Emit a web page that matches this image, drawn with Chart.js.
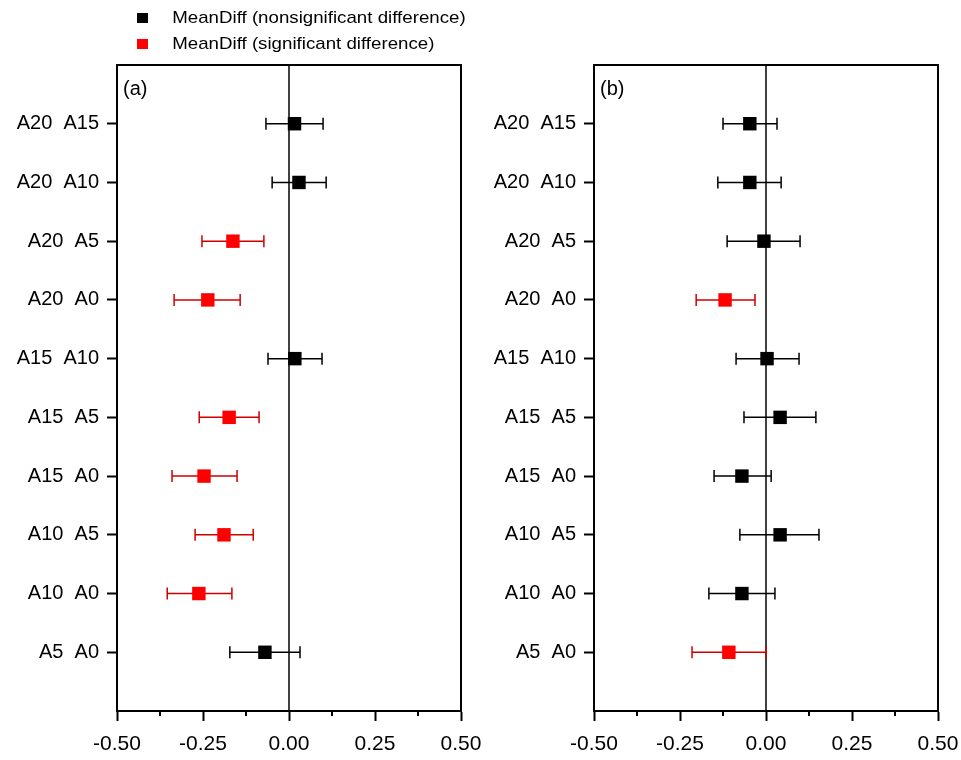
<!DOCTYPE html>
<html>
<head>
<meta charset="utf-8">
<script src="https://cdn.jsdelivr.net/npm/chart.js@4.4.1/dist/chart.umd.min.js"></script>
<style>
  body { margin: 0; background: #fff; }
  #wrap { position: relative; width: 961px; height: 760px; overflow: hidden; }
  canvas { position: absolute; top: 0; }
  #legend { position: absolute; left: 137px; top: 5px; font: 17px "Liberation Sans", Arial, sans-serif; color: #000;
            transform: scaleX(1.1); transform-origin: left top; }
  .row { height: 26px; display: flex; align-items: center; }
  .sw { width: 10px; height: 10px; margin-right: 22px; }
</style>
</head>
<body>
<div id="wrap">
  <canvas id="chartB" width="490" height="760" style="left:480px"></canvas>
  <canvas id="chartA" width="500" height="760" style="left:0"></canvas>
  <div id="legend">
    <div class="row"><span class="sw" style="background:#000"></span>MeanDiff (nonsignificant difference)</div>
    <div class="row"><span class="sw" style="background:#ff0000"></span>MeanDiff (significant difference)</div>
  </div>
</div>
<script>
// comparisons, top to bottom
const pairs = ["A20  A15", "A20  A10", "A20  A5", "A20  A0", "A15  A10",
               "A15  A5", "A15  A0", "A10  A5", "A10  A0", "A5  A0"];

// panel (a)
const meanA = [0.016, 0.029, -0.163, -0.236, 0.017, -0.174, -0.247, -0.189, -0.262, -0.070];
const lowA  = [-0.067, -0.049, -0.253, -0.334, -0.061, -0.261, -0.340, -0.273, -0.354, -0.172];
const highA = [0.099, 0.108, -0.073, -0.142, 0.096, -0.087, -0.151, -0.104, -0.166, 0.032];
const sigA  = [false, false, true, true, false, true, true, true, true, false];

// panel (b)
const meanB = [-0.047, -0.047, -0.006, -0.119, 0.003, 0.041, -0.070, 0.041, -0.070, -0.108];
const lowB  = [-0.125, -0.140, -0.113, -0.203, -0.087, -0.064, -0.151, -0.076, -0.166, -0.215];
const highB = [0.032, 0.044, 0.099, -0.032, 0.096, 0.145, 0.015, 0.154, 0.026, 0.000];
const sigB  = [false, false, false, true, false, false, false, false, false, true];

const xTicks = [-0.5, -0.25, 0, 0.25, 0.5];
const xMinor = [-0.375, -0.125, 0.125, 0.375];

const FONT = "'Liberation Sans', Arial, sans-serif";

function points(mean, low, high, sig, wantSig) {
    const out = [];
    mean.forEach((m, i) => {
        if (sig[i] === wantSig) {
            out.push({ x: m, y: pairs.length - i, lo: low[i], hi: high[i] });
        }
    });
    return out;
}

const panelPlugin = {
    id: "panel",
    beforeDatasetsDraw(chart) {
        const { ctx, chartArea: a, scales: { x, y } } = chart;
        ctx.save();
        const x0 = x.getPixelForValue(0);
        ctx.strokeStyle = "#000";
        ctx.lineWidth = 1.5;
        ctx.beginPath();
        ctx.moveTo(x0, a.top);
        ctx.lineTo(x0, a.bottom);
        ctx.stroke();

        chart.data.datasets.forEach(ds => {
            ctx.strokeStyle = ds.barColor;
            ctx.lineWidth = 1.5;
            ds.data.forEach(p => {
                const py = y.getPixelForValue(p.y);
                const l = x.getPixelForValue(p.lo);
                const r = x.getPixelForValue(p.hi);
                ctx.beginPath();
                ctx.moveTo(l, py); ctx.lineTo(r, py);
                ctx.moveTo(l, py - 6); ctx.lineTo(l, py + 6);
                ctx.moveTo(r, py - 6); ctx.lineTo(r, py + 6);
                ctx.stroke();
            });
        });
        ctx.restore();
    },
    afterDraw(chart, args, opts) {
        const { ctx, chartArea: a, scales: { x } } = chart;
        ctx.save();
        ctx.strokeStyle = "#000";
        ctx.lineWidth = 2;
        ctx.strokeRect(a.left, a.top, a.right - a.left, a.bottom - a.top);
        // minor ticks
        ctx.beginPath();
        xMinor.forEach(v => {
            const px = x.getPixelForValue(v);
            ctx.moveTo(px, a.bottom);
            ctx.lineTo(px, a.bottom + 5);
        });
        ctx.stroke();
        ctx.fillStyle = "#000";
        ctx.font = "20px " + FONT;
        ctx.textBaseline = "middle";
        ctx.fillText(opts.label, a.left + 6, a.top + 24);
        ctx.restore();
    }
};

function makeChart(id, mean, low, high, sig, label, yWidth, padRight) {
    return new Chart(document.getElementById(id), {
        type: "scatter",
        data: {
            datasets: [
                {
                    label: "MeanDiff (nonsignificant difference)",
                    data: points(mean, low, high, sig, false),
                    backgroundColor: "#000",
                    barColor: "#000",
                    pointStyle: "rect",
                    pointRadius: 9.5,
                    pointHoverRadius: 9.5,
                    borderWidth: 0
                },
                {
                    label: "MeanDiff (significant difference)",
                    data: points(mean, low, high, sig, true),
                    backgroundColor: "#ff0000",
                    barColor: "#cc0000",
                    pointStyle: "rect",
                    pointRadius: 9.5,
                    pointHoverRadius: 9.5,
                    borderWidth: 0
                }
            ]
        },
        options: {
            responsive: false,
            animation: false,
            events: [],
            layout: { padding: { top: 65, right: padRight, left: 0, bottom: 0 } },
            plugins: {
                legend: { display: false },
                tooltip: { enabled: false },
                panel: { label: label }
            },
            scales: {
                x: {
                    type: "linear",
                    min: -0.5,
                    max: 0.5,
                    afterBuildTicks: s => { s.ticks = xTicks.map(v => ({ value: v })); },
                    afterFit: s => { s.height = 49; },
                    ticks: {
                        color: "#000",
                        font: { family: FONT, size: 21 },
                        padding: 11,
                        maxRotation: 0,
                        autoSkip: false,
                        callback: v => v.toFixed(2)
                    },
                    grid: { drawOnChartArea: false, drawTicks: true, tickLength: 10, tickWidth: 2, tickColor: "#000" },
                    border: { display: true, color: "#000", width: 2 }
                },
                y: {
                    type: "linear",
                    min: 0,
                    max: pairs.length + 1,
                    afterBuildTicks: s => { s.ticks = pairs.map((p, i) => ({ value: pairs.length - i })); },
                    afterFit: s => { s.width = yWidth; },
                    ticks: {
                        color: "#000",
                        font: { family: FONT, size: 20 },
                        padding: 8,
                        autoSkip: false,
                        callback: v => pairs[pairs.length - v]
                    },
                    grid: { drawOnChartArea: false, drawTicks: true, tickLength: 10, tickWidth: 2, tickColor: "#000" },
                    border: { display: true, color: "#000", width: 2 }
                }
            }
        },
        plugins: [panelPlugin]
    });
}

makeChart("chartA", meanA, lowA, highA, sigA, "(a)", 117, 39);
makeChart("chartB", meanB, lowB, highB, sigB, "(b)", 114, 32);
</script>
</body>
</html>
